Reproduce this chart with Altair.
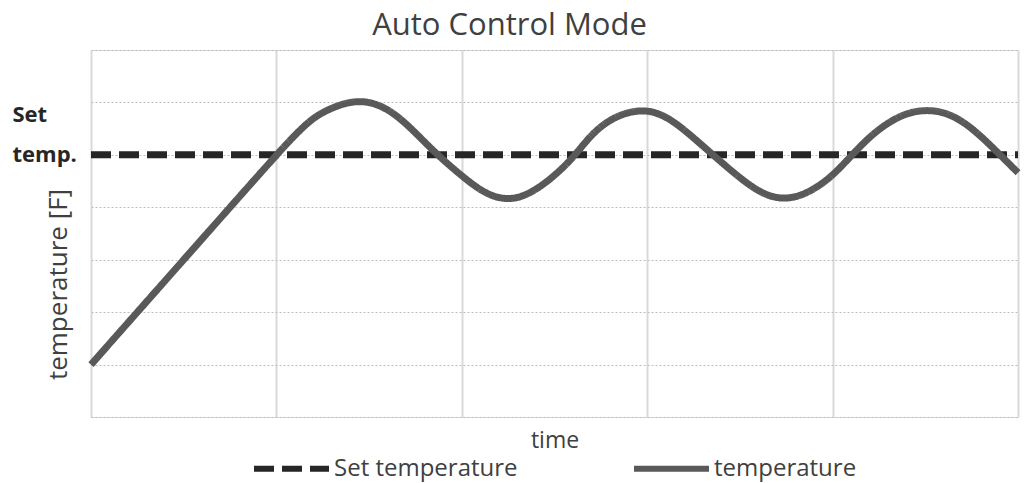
import altair as alt
import pandas as pd

# temperature curve (time in grid units, temperature in grid units)
temp_time = [0.0, 0.5, 1.0, 1.1, 1.2, 1.3, 1.4, 1.5, 1.6, 1.7, 1.8, 1.9,
             2.0, 2.1, 2.2, 2.3, 2.4, 2.5, 2.6, 2.7, 2.8, 2.9,
             3.0, 3.1, 3.2, 3.3, 3.4, 3.5, 3.6, 3.7, 3.8, 3.9,
             4.0, 4.1, 4.2, 4.3, 4.4, 4.5, 4.6, 4.7, 4.8, 4.9, 5.0]
temp_value = [1.0, 3.0, 5.0, 5.38, 5.72, 5.90, 6.02, 6.02, 5.88, 5.60, 5.24, 4.90,
              4.60, 4.32, 4.16, 4.16, 4.33, 4.60, 4.94, 5.40, 5.68, 5.82,
              5.86, 5.74, 5.48, 5.17, 4.86, 4.56, 4.30, 4.16, 4.18, 4.34,
              4.60, 4.98, 5.35, 5.62, 5.80, 5.86, 5.82, 5.65, 5.36, 5.01, 4.66]

set_time = [0.0, 5.0]
set_value = [5.0, 5.0]

series_names = ["Set temperature", "temperature"]
x_grid = [0, 1, 2, 3, 4, 5]
y_grid = [0, 1, 2, 3, 4, 5, 6, 7]

rows = []
for t, v in zip(set_time, set_value):
    rows.append({"time": t, "value": v, "series": series_names[0], "order": len(rows)})
for t, v in zip(temp_time, temp_value):
    rows.append({"time": t, "value": v, "series": series_names[1], "order": len(rows)})
df = pd.DataFrame(rows)

FONT = "Open Sans"
TXT = "#404040"

legend_kw = dict(title=None, orient="none", direction="horizontal",
                 legendX=160, legendY=378,
                 symbolType="stroke", symbolSize=5625,
                 symbolStrokeWidth=6, labelFont=FONT,
                 labelFontSize=24, labelColor=TXT, labelLimit=400,
                 labelOffset=2, columnPadding=104)

chart = alt.Chart(df).mark_line(strokeWidth=7, interpolate="basis", strokeCap="butt").encode(
    x=alt.X("time:Q", scale=alt.Scale(domain=[0, 5], nice=False, zero=False),
            axis=alt.Axis(values=x_grid, labels=False, ticks=False, domain=False,
                          grid=True, gridColor="#d9d9d9", gridWidth=2,
                          title="time", titleFont=FONT, titleFontSize=23,
                          titleFontWeight="normal", titleColor=TXT, titlePadding=12)),
    y=alt.Y("value:Q", scale=alt.Scale(domain=[0, 7], nice=False, zero=False),
            axis=alt.Axis(values=y_grid, ticks=False, domain=False, grid=True,
                          gridColor="#bdbdbd", gridDash=[2, 2], gridWidth=1,
                          labelExpr="datum.value == 5 ? ['Set', 'temp.'] : ''",
                          labelFont=FONT, labelFontSize=22, labelFontWeight="bold",
                          labelColor="#262626", labelAlign="left", labelBaseline="bottom",
                          labelLineHeight=40, labelPadding=79, labelOffset=-28,
                          title="temperature [F]", titleFont=FONT, titleFontSize=26,
                          titleFontWeight="normal", titleColor=TXT,
                          titleX=-20, titleY=234, titleAngle=270)),
    color=alt.Color("series:N",
                    scale=alt.Scale(domain=series_names, range=["#262626", "#595959"]),
                    legend=alt.Legend(**legend_kw)),
    strokeDash=alt.StrokeDash("series:N",
                              scale=alt.Scale(domain=series_names, range=[[20, 8], [1, 0]]),
                              legend=alt.Legend(**legend_kw)),
    detail="series:N",
    order="order:Q",
).properties(
    width=927,
    height=367,
    title=alt.TitleParams("Auto Control Mode", font=FONT, fontSize=31,
                          fontWeight="normal", color=TXT, anchor="middle",
                          dx=-45, offset=8),
    autosize=alt.AutoSizeParams(type="none"),
    padding={"left": 83, "top": 42, "right": 7, "bottom": 66},
).configure_view(stroke=None).configure(background="white")

chart.save("out.html", embed_options={"renderer": "svg", "actions": False})
